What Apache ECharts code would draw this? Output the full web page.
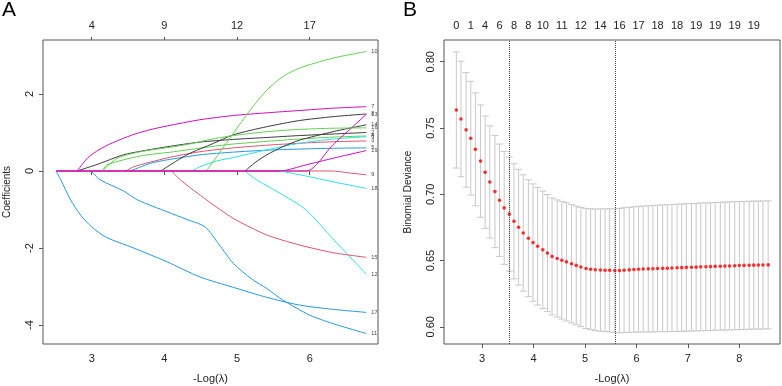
<!DOCTYPE html>
<html>
<head>
<meta charset="utf-8">
<script src="https://cdn.jsdelivr.net/npm/echarts@6/dist/echarts.min.js"></script>
<style>
  html, body { margin: 0; padding: 0; background: #fff; }
  #chart { width: 782px; height: 386px; }
</style>
</head>
<body>
<div id="chart"></div>
<script>
// ---- panel A: coefficient paths (x = -log(lambda), y = coefficient) ----
// each path starts where the coefficient leaves zero; 9, 13 and 19 keep
// their zero stretch, they are the ones seen on top of the zero line
const xTicksA = [3, 4, 5, 6];
const dfTopA = ["4", "9", "12", "17"];
const yTicksA = [-4, -2, 0, 2];

const path2 = [[2.80, 0], [3.12, 0.20], [3.40, 0.40], [3.58, 0.48], [4.04, 0.63], [4.49, 0.75], [4.95, 0.82], [5.41, 0.87], [5.86, 0.92], [6.32, 0.96], [6.78, 1.00]];
const path3 = [[3.47, 0], [3.58, 0.11], [4.04, 0.34], [4.49, 0.50], [4.95, 0.60], [5.41, 0.67], [5.86, 0.72], [6.32, 0.76], [6.78, 0.78]];
const path4 = [[3.15, 0], [3.21, 0.16], [3.67, 0.39], [4.13, 0.50], [4.63, 0.63], [4.95, 0.70], [5.41, 0.77], [5.86, 0.83], [6.32, 0.88], [6.78, 0.91]];
const path5 = [[3.53, 0], [3.81, 0.20], [4.04, 0.29], [4.49, 0.42], [4.95, 0.49], [5.41, 0.54], [5.86, 0.57], [6.32, 0.59], [6.78, 0.60]];
const path6 = [[4.38, 0], [4.49, 0.11], [4.72, 0.26], [4.95, 0.35], [5.41, 0.55], [5.86, 0.72], [6.32, 0.83], [6.78, 0.89]];
const path7 = [[2.80, 0], [2.95, 0.35], [3.10, 0.55], [3.25, 0.70], [3.40, 0.82], [3.58, 0.95], [3.80, 1.07], [4.04, 1.17], [4.49, 1.33], [4.95, 1.44], [5.41, 1.51], [5.86, 1.57], [6.32, 1.63], [6.78, 1.67]];
const path8 = [[3.95, 0], [4.31, 0.42], [4.68, 0.72], [4.95, 0.94], [5.41, 1.15], [5.86, 1.31], [6.32, 1.41], [6.78, 1.48]];
const path9 = [[2.51, 0], [6.30, 0], [6.55, -0.05], [6.78, -0.10]];
const path10 = [[4.58, 0], [4.75, 0.45], [4.95, 0.98], [5.18, 1.58], [5.41, 2.10], [5.63, 2.45], [5.86, 2.67], [6.32, 2.93], [6.78, 3.10]];
const path11 = [[2.99, 0], [3.12, -0.23], [3.44, -0.52], [3.63, -0.75], [4.04, -1.06], [4.30, -1.25], [4.56, -1.45], [4.75, -1.90], [4.95, -2.40], [5.20, -2.80], [5.41, -3.05], [5.63, -3.35], [6.00, -3.74], [6.32, -3.96], [6.78, -4.22]];
const path12 = [[5.11, 0], [5.27, -0.23], [5.63, -0.62], [5.95, -1.01], [6.32, -1.76], [6.78, -2.68]];
const path13 = [[2.51, 0], [5.95, 0], [6.32, 0.68], [6.78, 1.47]];
const path14 = [[5.11, 0], [5.25, 0.22], [5.41, 0.42], [5.63, 0.63], [5.86, 0.80], [6.32, 1.02], [6.78, 1.20]];
const path15 = [[4.10, 0], [4.22, -0.23], [4.58, -0.75], [4.95, -1.23], [5.41, -1.66], [5.86, -1.92], [6.32, -2.12], [6.78, -2.24]];
const path16 = [[3.15, 0], [3.35, 0.33], [3.67, 0.50], [4.13, 0.63], [4.40, 0.72], [4.63, 0.82], [4.95, 0.92], [5.41, 1.02], [5.86, 1.08], [6.32, 1.11], [6.78, 1.12]];
const path17 = [[2.51, 0], [2.575, -0.23], [2.71, -0.75], [2.85, -1.15], [3.00, -1.45], [3.20, -1.72], [3.58, -2.00], [4.04, -2.36], [4.49, -2.75], [4.95, -3.02], [5.41, -3.28], [5.86, -3.48], [6.32, -3.59], [6.78, -3.67]];
const path18 = [[5.59, 0], [5.95, -0.13], [6.32, -0.28], [6.78, -0.45]];
const path19 = [[2.51, 0], [5.59, 0], [5.95, 0.16], [6.32, 0.33], [6.78, 0.53]];

const varIds = [2, 3, 4, 5, 6, 7, 8, 9, 10, 11, 12, 13, 14, 15, 16, 17, 18, 19];
const varPaths = [path2, path3, path4, path5, path6, path7, path8, path9, path10,
  path11, path12, path13, path14, path15, path16, path17, path18, path19];

// ---- panel B: cross-validation curve ----
const logLam = [2.50, 2.59, 2.69, 2.78, 2.87, 2.97, 3.06, 3.15, 3.25, 3.34,
  3.43, 3.53, 3.62, 3.71, 3.80, 3.90, 3.99, 4.08, 4.18, 4.27,
  4.36, 4.46, 4.55, 4.64, 4.74, 4.83, 4.92, 5.02, 5.11, 5.20,
  5.30, 5.39, 5.48, 5.58, 5.67, 5.76, 5.86, 5.95, 6.04, 6.13,
  6.23, 6.32, 6.41, 6.51, 6.60, 6.69, 6.79, 6.88, 6.97, 7.07,
  7.16, 7.25, 7.35, 7.44, 7.53, 7.63, 7.72, 7.81, 7.91, 8.00,
  8.09, 8.19, 8.28, 8.37, 8.46, 8.56];
const cvm = [0.7636, 0.7568, 0.7486, 0.7423, 0.7339, 0.7250, 0.7166, 0.7093, 0.7020, 0.6955,
  0.6897, 0.6850, 0.6796, 0.6751, 0.6708, 0.6668, 0.6635, 0.6608, 0.6581, 0.6556,
  0.6531, 0.6515, 0.6502, 0.6490, 0.6476, 0.6463, 0.6451, 0.6440, 0.6434, 0.6430,
  0.6428, 0.6427, 0.6426, 0.6424, 0.6424, 0.6427, 0.6429, 0.6432, 0.6434, 0.6436,
  0.6437, 0.6438, 0.6440, 0.6441, 0.6442, 0.6444, 0.6445, 0.6446, 0.6448, 0.6449,
  0.6450, 0.6452, 0.6453, 0.6454, 0.6456, 0.6457, 0.6458, 0.6459, 0.6461, 0.6462,
  0.6463, 0.6464, 0.6465, 0.6466, 0.6466, 0.6467];
const cvsd = [0.0438, 0.0436, 0.0433, 0.0429, 0.0426, 0.0424, 0.0424, 0.0423, 0.0423, 0.0424,
  0.0426, 0.0430, 0.0434, 0.0437, 0.0439, 0.0441, 0.0443, 0.0444, 0.0443, 0.0442,
  0.0441, 0.0442, 0.0444, 0.0446, 0.0447, 0.0448, 0.0450, 0.0453, 0.0456, 0.0459,
  0.0461, 0.0463, 0.0465, 0.0467, 0.0469, 0.0471, 0.0472, 0.0473, 0.0474, 0.0475,
  0.0476, 0.0477, 0.0477, 0.0478, 0.0479, 0.0479, 0.0480, 0.0480, 0.0481, 0.0481,
  0.0481, 0.0482, 0.0482, 0.0482, 0.0482, 0.0483, 0.0483, 0.0483, 0.0483, 0.0483,
  0.0483, 0.0483, 0.0483, 0.0483, 0.0483, 0.0483];
const nzIdx = [0, 3, 6, 9, 12, 15, 18, 22, 26, 30, 34, 38, 42, 46, 50, 54, 58, 62];
const nzLab = ["0", "1", "4", "6", "8", "8", "10", "11", "12", "14", "16", "17", "18", "18", "19", "19", "19", "19"];
const idx1se = 11;
const idxMin = 33;
const xTicksB = [3, 4, 5, 6, 7, 8];
const yTicksB = [0.60, 0.65, 0.70, 0.75, 0.80];

const rPal = ["#3a3a3a", "#DF536B", "#61D04F", "#2297E6", "#28E2E5", "#CD0BBC"];
const font = "Liberation Sans, Arial, sans-serif";
const boxCol = "#555";

var chartDom = document.getElementById("chart");
var myChart = echarts.init(chartDom);

function bottomAxis(idx, ticks, min, max) {
  return {
    type: "value", gridIndex: idx, position: "bottom", min: min, max: max,
    name: "-Log(\u03bb)", nameLocation: "middle", nameGap: 29,
    nameTextStyle: { fontSize: 11, color: "#222", fontFamily: font },
    axisLine: { show: false }, splitLine: { show: false },
    axisTick: { show: true, length: 4, customValues: ticks, lineStyle: { color: boxCol } },
    axisLabel: { customValues: ticks, margin: 9, fontSize: 11, color: "#222", fontFamily: font }
  };
}

var lineSeries = varPaths.map(function (p, i) {
  var id = varIds[i];
  return {
    type: "line", xAxisIndex: 0, yAxisIndex: 0, data: p,
    showSymbol: false, smooth: 0.25,
    lineStyle: { width: 1, color: rPal[((id - 2) % 6 + 6) % 6] },
    endLabel: { show: true, formatter: String(id), fontSize: 5.5, color: "#444", distance: 5, fontFamily: font },
    silent: true, z: 2 + i
  };
});

var option = {
  animation: false,
  textStyle: { fontFamily: font },
  title: [
    { text: "A", left: 2, top: 0, padding: 0, textStyle: { fontSize: 21, fontWeight: "normal", color: "#000", fontFamily: font } },
    { text: "B", left: 403, top: 0, padding: 0, textStyle: { fontSize: 21, fontWeight: "normal", color: "#000", fontFamily: font } }
  ],
  grid: [
    { left: 43, right: 404, top: 40, bottom: 42, show: true, borderColor: boxCol, borderWidth: 1, outerBoundsMode: "none" },
    { left: 444, right: 2, top: 40, bottom: 42, show: true, borderColor: boxCol, borderWidth: 1, outerBoundsMode: "none" }
  ],
  xAxis: [
    bottomAxis(0, xTicksA, 2.33, 6.94),
    {
      type: "value", gridIndex: 0, position: "top", min: 2.33, max: 6.94,
      axisLine: { show: false }, splitLine: { show: false },
      axisTick: { show: true, length: 3, customValues: xTicksA, lineStyle: { color: boxCol } },
      axisLabel: {
        customValues: xTicksA, margin: 9, fontSize: 11, color: "#222",
        formatter: function (v) { return dfTopA[xTicksA.indexOf(Math.round(v))]; }
      }
    },
    bottomAxis(1, xTicksB, 2.26, 8.79),
    {
      type: "value", gridIndex: 1, position: "top", min: 2.26, max: 8.79,
      axisLine: { show: false }, splitLine: { show: false }, axisTick: { show: false },
      axisLabel: {
        customValues: nzIdx.map(function (i) { return logLam[i]; }), margin: 9, fontSize: 11, color: "#222",
        formatter: function (v) {
          var best = 0;
          nzIdx.forEach(function (ix, k) {
            if (Math.abs(logLam[ix] - v) < Math.abs(logLam[nzIdx[best]] - v)) best = k;
          });
          return nzLab[best];
        }
      }
    }
  ],
  yAxis: [
    {
      type: "value", gridIndex: 0, min: -4.49, max: 3.40,
      name: "Coefficients", nameLocation: "middle", nameGap: 31,
      nameTextStyle: { fontSize: 10, color: "#222" },
      axisLine: { show: false }, splitLine: { show: false },
      axisTick: { show: true, length: 4, customValues: yTicksA, lineStyle: { color: boxCol } },
      axisLabel: { customValues: yTicksA, rotate: 90, margin: 8, fontSize: 11, color: "#222" }
    },
    {
      type: "value", gridIndex: 1, min: 0.587, max: 0.8164,
      name: "Binomial Deviance", nameLocation: "middle", nameGap: 31,
      nameTextStyle: { fontSize: 10, color: "#222" },
      axisLine: { show: false }, splitLine: { show: false },
      axisTick: { show: true, length: 4, customValues: yTicksB, lineStyle: { color: boxCol } },
      axisLabel: {
        customValues: yTicksB, rotate: 90, margin: 8, fontSize: 11, color: "#222",
        formatter: function (v) { return v.toFixed(2); }
      }
    }
  ],
  series: lineSeries.concat([
    {
      type: "custom", xAxisIndex: 2, yAxisIndex: 1, silent: true,
      data: logLam.map(function (x, i) { return [x, cvm[i] - cvsd[i], cvm[i] + cvsd[i]]; }),
      encode: { x: 0, y: [1, 2] },
      renderItem: function (params, api) {
        var x = api.value(0);
        var hi = api.coord([x, api.value(2)]);
        var lo = api.coord([x, api.value(1)]);
        var w = 3.5;
        var st = { stroke: "#c8c8c8", lineWidth: 1 };
        return {
          type: "group",
          children: [
            { type: "line", shape: { x1: hi[0], y1: hi[1], x2: lo[0], y2: lo[1] }, style: st },
            { type: "line", shape: { x1: hi[0] - w, y1: hi[1], x2: hi[0] + w, y2: hi[1] }, style: st },
            { type: "line", shape: { x1: lo[0] - w, y1: lo[1], x2: lo[0] + w, y2: lo[1] }, style: st }
          ]
        };
      },
      z: 2
    },
    {
      type: "scatter", xAxisIndex: 2, yAxisIndex: 1, silent: true,
      data: logLam.map(function (x, i) { return [x, cvm[i]]; }),
      symbol: "circle", symbolSize: 3.6,
      itemStyle: { color: "#ff0000" },
      markLine: {
        silent: true, symbol: "none", label: { show: false },
        lineStyle: { type: "dotted", color: "#444", width: 1 },
        data: [{ xAxis: logLam[idx1se] }, { xAxis: logLam[idxMin] }]
      },
      z: 3
    }
  ])
};

option && myChart.setOption(option);
</script>
</body>
</html>
